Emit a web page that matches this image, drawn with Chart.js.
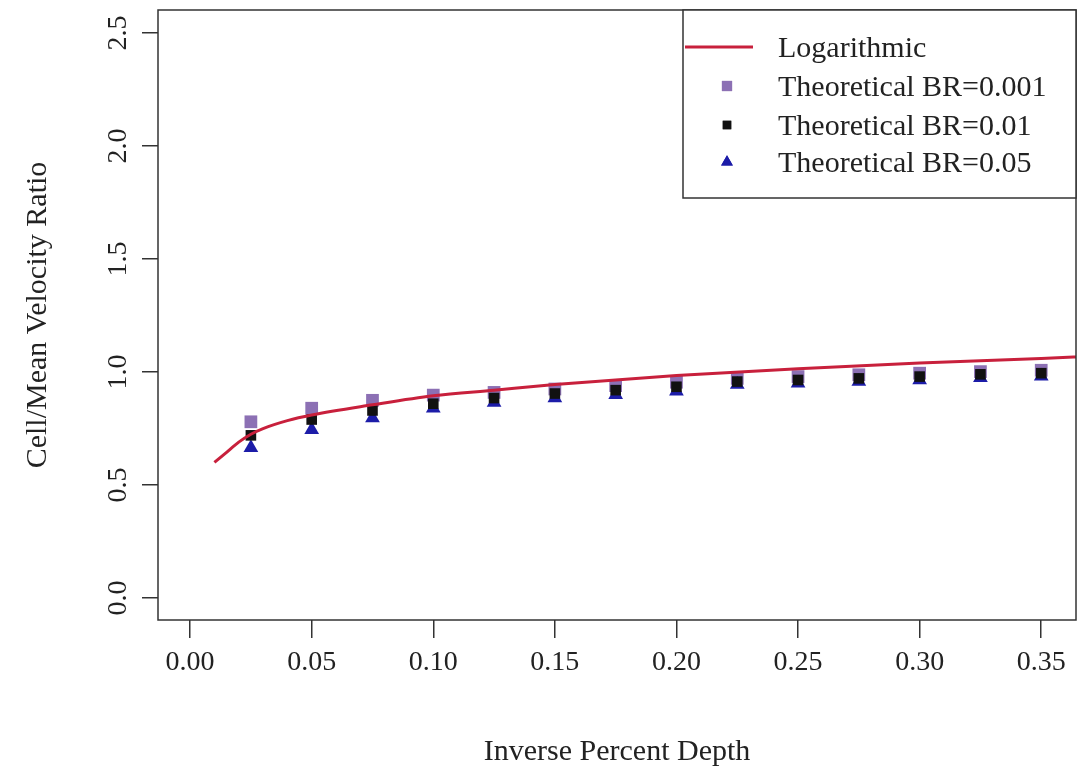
<!DOCTYPE html>
<html><head><meta charset="utf-8">
<script src="https://cdn.jsdelivr.net/npm/chart.js@4"></script>
<style>html,body{margin:0;padding:0;background:#fff}</style>
</head><body>
<canvas id="c" width="1078" height="776"></canvas>
<script>
// ---- data ----
const xPoints = [0.025,0.05,0.075,0.10,0.125,0.15,0.175,0.20,0.225,0.25,0.275,0.30,0.325,0.35];
const br001 = [0.78,0.84,0.875,0.898,0.91,0.925,0.94,0.955,0.972,0.98,0.988,0.995,1.002,1.008];
const br01  = [0.72,0.79,0.83,0.86,0.885,0.905,0.92,0.935,0.958,0.965,0.972,0.98,0.99,0.995];
const br05  = [0.665,0.745,0.797,0.84,0.865,0.885,0.90,0.915,0.945,0.95,0.958,0.965,0.975,0.982];
const logX = [0.01,0.015,0.02,0.025,0.03,0.04,0.05,0.075,0.10,0.125,0.15,0.175,0.20,0.25,0.30,0.35,0.37];
const logY = [0.60,0.645,0.69,0.725,0.75,0.785,0.81,0.855,0.895,0.92,0.945,0.965,0.985,1.015,1.04,1.06,1.07];
const xTicks = [0,0.05,0.10,0.15,0.20,0.25,0.30,0.35];
const xTickLabels = ["0.00","0.05","0.10","0.15","0.20","0.25","0.30","0.35"];
const yTicks = [0,0.5,1.0,1.5,2.0,2.5];
const yTickLabels = ["0.0","0.5","1.0","1.5","2.0","2.5"];
const seriesNames = ["Logarithmic","Theoretical BR=0.001","Theoretical BR=0.01","Theoretical BR=0.05"];

const FONT = "'Liberation Serif', 'Times New Roman', serif";
const TXT = '#222';
const pts = arr => arr.map((v,i)=>({x:xPoints[i], y:v}));
const noPad = s => { s.paddingLeft = 0; s.paddingRight = 0; s.paddingTop = 0; s.paddingBottom = 0; };

const boxPlugin = {
  id:'box',
  afterDraw(chart){
    const {ctx, chartArea:a} = chart;
    ctx.save();
    ctx.strokeStyle = '#333'; ctx.lineWidth = 1.5;
    ctx.strokeRect(a.left, a.top, a.right-a.left, a.bottom-a.top);
    // legend
    const w = 393, h = 188;
    const lx = a.right - w, ly = a.top;
    ctx.fillStyle = '#fff';
    ctx.fillRect(lx, ly, w, h);
    ctx.strokeRect(lx, ly, w, h);
    const rows = [37, 76, 115, 152];
    ctx.font = "30px " + FONT;
    ctx.textBaseline = 'middle';
    ctx.textAlign = 'left';
    chart.data.datasets.forEach((ds, i) => {
      const y = ly + rows[i];
      if (ds.showLine) {
        ctx.strokeStyle = ds.borderColor; ctx.lineWidth = 3;
        ctx.beginPath(); ctx.moveTo(lx+2, y); ctx.lineTo(lx+70, y); ctx.stroke();
      } else {
        ctx.fillStyle = ds.backgroundColor;
        ctx.beginPath();
        Chart.helpers.drawPoint(ctx, {pointStyle: ds.pointStyle, radius: ds.pointRadius*0.8, borderWidth: 0}, lx+44, y);
        ctx.fill();
      }
      ctx.fillStyle = TXT;
      ctx.fillText(ds.label, lx+95, y+2);
    });
    ctx.restore();
  }
};

new Chart(document.getElementById('c'), {
  type: 'scatter',
  data: {
    datasets: [
      {label: seriesNames[0], type:'line', data: logX.map((x,i)=>({x, y:logY[i]})), showLine:true,
       borderColor:'#c8203c', backgroundColor:'#c8203c', borderWidth:3, pointRadius:0,
       cubicInterpolationMode:'monotone', order:0, clip:0},
      {label: seriesNames[1], data: pts(br001), pointStyle:'rect', pointRadius:9,
       backgroundColor:'#8c70b4', borderColor:'#8c70b4', borderWidth:0, order:3},
      {label: seriesNames[2], data: pts(br01), pointStyle:'rect', pointRadius:7.5,
       backgroundColor:'#111', borderColor:'#111', borderWidth:0, order:1},
      {label: seriesNames[3], data: pts(br05), pointStyle:'triangle', pointRadius:8.5,
       backgroundColor:'#1c1ca8', borderColor:'#1c1ca8', borderWidth:0, order:2}
    ]
  },
  options: {
    responsive:false, animation:false,
    layout:{autoPadding:false, padding:{top:10, right:2, left:0, bottom:0}},
    plugins:{legend:{display:false}, tooltip:{enabled:false}},
    scales:{
      x:{type:'linear', min:-0.0132, max:0.3643,
        afterBuildTicks: s => { s.ticks = xTicks.map(v=>({value:v})); },
        afterFit: s => { s.height = 156; noPad(s); },
        ticks:{callback:(v,i)=>xTickLabels[i], font:{family:FONT, size:28}, color:TXT, padding:8, maxRotation:0, autoSkip:false},
        grid:{drawOnChartArea:false, drawTicks:true, tickLength:18, color:'#333', lineWidth:1.5},
        border:{display:false},
        title:{display:true, text:'Inverse Percent Depth', font:{family:FONT, size:30}, color:TXT, padding:{top:0,bottom:6}}
      },
      y:{type:'linear', min:-0.097, max:2.602,
        afterBuildTicks: s => { s.ticks = yTicks.map(v=>({value:v})); },
        afterFit: s => { s.width = 158; noPad(s); },
        ticks:{callback:(v,i)=>yTickLabels[i], font:{family:FONT, size:28}, color:TXT, padding:6, minRotation:90, maxRotation:90, crossAlign:'center', autoSkip:false},
        grid:{drawOnChartArea:false, drawTicks:true, tickLength:16, color:'#333', lineWidth:1.5},
        border:{display:false},
        title:{display:true, text:'Cell/Mean Velocity Ratio', font:{family:FONT, size:30}, color:TXT, padding:{top:20,bottom:0}}
      }
    }
  },
  plugins:[boxPlugin]
});
</script>
</body></html>
